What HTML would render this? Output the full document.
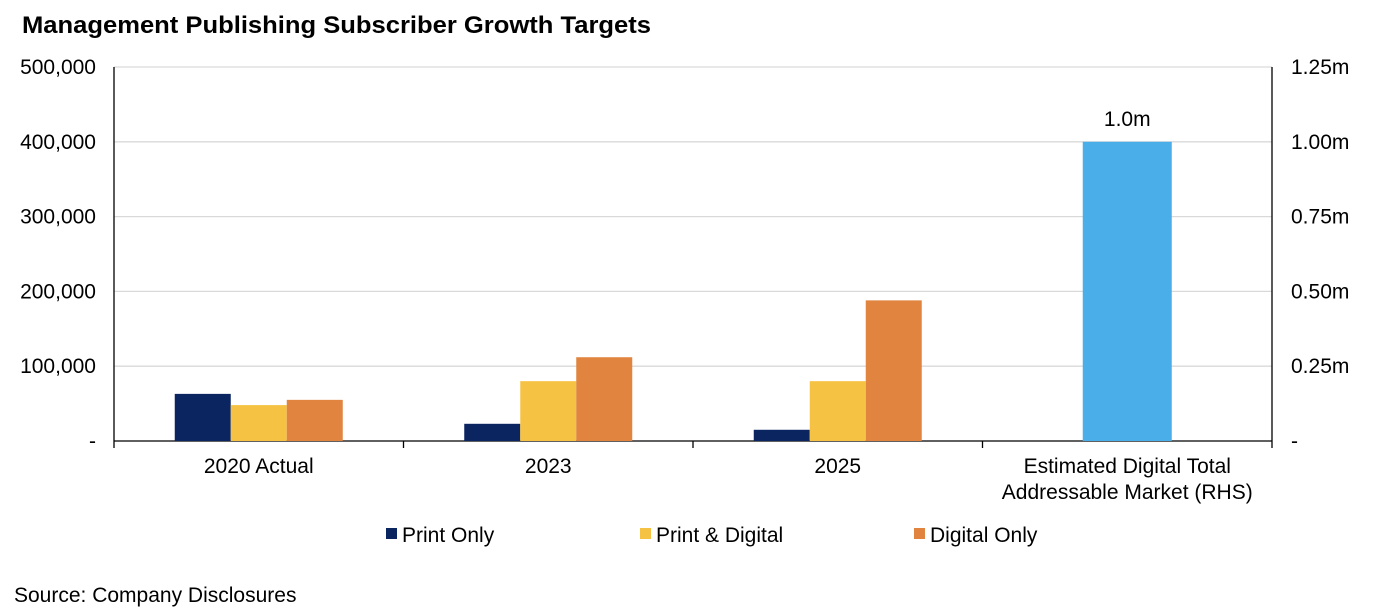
<!DOCTYPE html>
<html><head><meta charset="utf-8"><style>
body{margin:0;background:#fff;font-family:"Liberation Sans",Arial,sans-serif;}
svg{display:block}
</style></head><body>
<svg width="1378" height="615" id="c" font-family="Liberation Sans, Arial, sans-serif">
<text x="22" y="33" font-size="24" font-weight="bold" fill="#000" textLength="629" lengthAdjust="spacingAndGlyphs">Management Publishing Subscriber Growth Targets</text>
<text x="14" y="602" font-size="21" fill="#000">Source: Company Disclosures</text>
</svg>
<script>
const categories=["2020 Actual","2023","2025"];
const printOnly=[63000,23000,15000];
const printDigital=[48000,80000,80000];
const digitalOnly=[55000,112000,188000];
const tamValue=[1.0];
const leftTicks=[0,100000,200000,300000,400000,500000];
const leftTickLabels=["-","100,000","200,000","300,000","400,000","500,000"];
const rightTicks=[0,0.25,0.5,0.75,1.0,1.25];
const rightTickLabels=["-","0.25m","0.50m","0.75m","1.00m","1.25m"];
const seriesNames=["Print Only","Print & Digital","Digital Only"];
const colors=["#0b2560","#f6c244","#e0843f"];
const NS="http://www.w3.org/2000/svg";
const svg=document.getElementById('c');
const X0=114,X1=1272,Y0=441,Y1=67;
const yL=v=>Y0-(v/500000)*(Y0-Y1);
const yR=v=>Y0-(v/1.25)*(Y0-Y1);
const gw=(X1-X0)/4;
const FS=21;
function mk(t,a){const e=document.createElementNS(NS,t);for(const k in a)e.setAttribute(k,a[k]);svg.appendChild(e);return e;}
leftTicks.forEach((v,i)=>{
 const g=mk('line',{x1:X0,x2:X1,y1:yL(v),y2:yL(v),stroke:i==0?'#000':'#d9d9d9','stroke-width':1.3});
 
 
 const t=mk('text',{x:96,y:yL(v)+7,'font-size':FS,'text-anchor':'end'});t.textContent=leftTickLabels[i];
 
 
});
rightTicks.forEach((v,i)=>{
 const t=mk('text',{x:1291,y:yR(v)+7,'font-size':FS});t.textContent=rightTickLabels[i];
 
 
});
const ax=mk('line',{x1:X0,x2:X0,y1:Y1,y2:Y0,stroke:'#000','stroke-width':1.3});


const ax2=mk('line',{x1:X1,x2:X1,y1:Y1,y2:Y0,stroke:'#000','stroke-width':1.3});


for(let i=0;i<=4;i++){const t=mk('line',{x1:X0+i*gw,x2:X0+i*gw,y1:Y0,y2:Y0+7,stroke:'#000','stroke-width':1.3});
 
 }
const bw=56;
categories.forEach((c,i)=>{
 const cx=X0+gw*(i+0.5);
 [printOnly,printDigital,digitalOnly].forEach((s,j)=>{
  const r=mk('rect',{x:cx-1.5*bw+j*bw,y:yL(s[i]),width:bw,height:Y0-yL(s[i]),fill:colors[j]});
  
  
 });
 const t=mk('text',{x:cx,y:473,'font-size':FS,'text-anchor':'middle'});t.textContent=c;
 
 
});
const tcx=X0+gw*3.5;
const tb=mk('rect',{x:tcx-44.5,y:yR(tamValue[0]),width:89,height:Y0-yR(tamValue[0]),fill:'#4aaee8'});


const tl=mk('text',{x:tcx,y:yR(tamValue[0])-16,'font-size':FS,'text-anchor':'middle'});tl.textContent=tamValue[0].toFixed(1)+'m';


const t1=mk('text',{x:tcx,y:473,'font-size':FS,'text-anchor':'middle'});t1.textContent='Estimated Digital Total';


const t2=mk('text',{x:tcx,y:499,'font-size':FS,'text-anchor':'middle'});t2.textContent='Addressable Market (RHS)';


const lx=[386,640,914];
seriesNames.forEach((n,j)=>{
 const r=mk('rect',{x:lx[j],y:528,width:11,height:11,fill:colors[j]});
 
 
 const t=mk('text',{x:lx[j]+16,y:542,'font-size':FS});t.textContent=n;
 
 
});
</script>
</body></html>
